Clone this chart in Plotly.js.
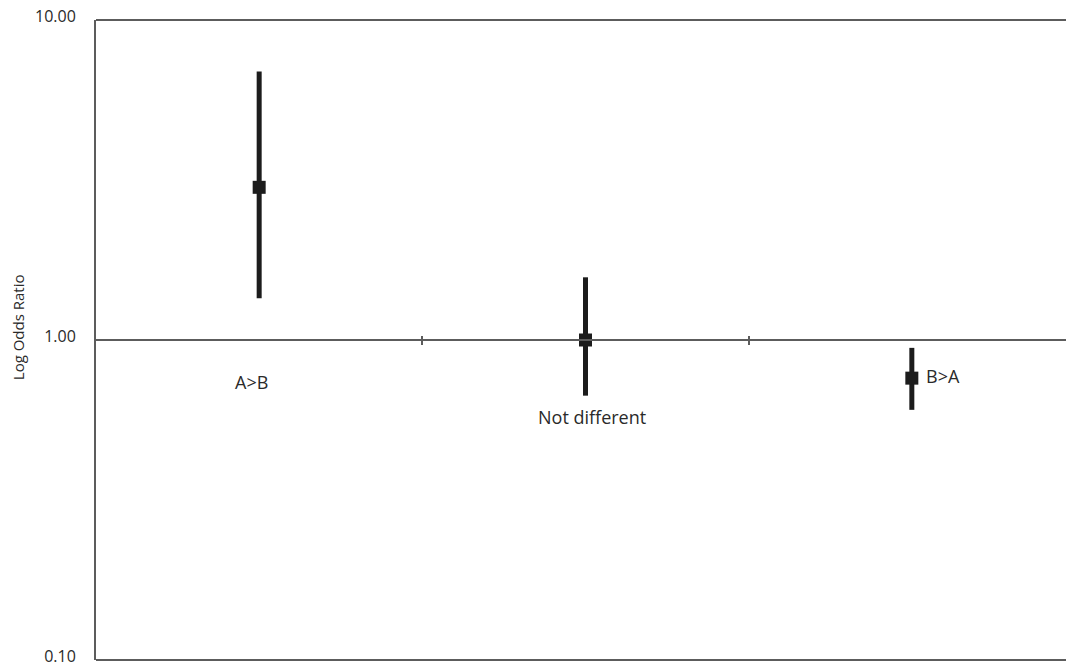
<!DOCTYPE html>
<html>
<head>
<meta charset="utf-8">
<script src="https://cdn.plot.ly/plotly-3.0.1.min.js"></script>
<style>
html, body { margin: 0; padding: 0; background: #fff; overflow: hidden; width: 1066px; height: 668px; }
#chart { width: 1075px; height: 680px; }
</style>
</head>
<body>
<div id="chart"></div>
<script>
// Data
var categories = ['A>B', 'Not different', 'B>A'];
var oddsRatio = [3.0, 1.0, 0.76];
var upperCI = [6.9, 1.57, 0.945];
var lowerCI = [1.35, 0.67, 0.605];
var labelY = [0.74, 0.575, 0.77];
var yTickVals = [0.1, 1, 10];
var yTickText = ['0.10', '1.00', '10.00'];
var yTitle = 'Log Odds Ratio';

var xIdx = categories.map(function (c, i) { return i; });

var trace = {
  type: 'scatter',
  mode: 'markers',
  x: xIdx,
  y: oddsRatio,
  marker: { symbol: 'square', size: 13, color: '#1c1c1c' },
  error_y: {
    type: 'data',
    symmetric: false,
    array: upperCI.map(function (u, i) { return u - oddsRatio[i]; }),
    arrayminus: lowerCI.map(function (l, i) { return oddsRatio[i] - l; }),
    color: '#1c1c1c',
    thickness: 5,
    width: 0
  },
  hoverinfo: 'skip',
  showlegend: false
};

// helper trace for secondary x axis (for centered divider ticks)
var trace2 = {
  type: 'scatter', mode: 'markers', x: xIdx, y: oddsRatio,
  xaxis: 'x2', yaxis: 'y', marker: { opacity: 0 }, hoverinfo: 'skip', showlegend: false
};

var lineColor = '#5c5c5c';
var textColor = '#2a2a2a';
var fontFam = '"Open Sans", "Noto Sans", sans-serif';

var annotations = [
  { x: 0, y: Math.log10(labelY[0]), text: categories[0], xshift: -8, xanchor: 'center' },
  { x: 1, y: Math.log10(labelY[1]), text: categories[1], xshift: 6, xanchor: 'center' },
  { x: 2, y: Math.log10(labelY[2]), text: categories[2], xshift: 12, xanchor: 'left' }
].map(function (a) {
  a.xref = 'x'; a.yref = 'y'; a.showarrow = false;
  a.font = { family: fontFam, size: 18, color: textColor };
  return a;
});
annotations.push({
  xref: 'paper', yref: 'paper', x: 0, y: 0.52, xshift: -78,
  text: yTitle, textangle: -90, showarrow: false,
  xanchor: 'center', yanchor: 'middle',
  font: { family: fontFam, size: 15, color: textColor }
});

var layout = {
  width: 1075,
  height: 680,
  margin: { l: 96, r: 0, t: 20, b: 20, pad: 0 },
  paper_bgcolor: '#fff',
  plot_bgcolor: '#fff',
  showlegend: false,
  xaxis: {
    range: [-0.5, 2.5],
    anchor: 'free', position: 0.5,
    showline: true, linecolor: lineColor, linewidth: 2,
    tickvals: [0.5, 1.5], ticktext: ['', ''],
    ticks: 'outside', ticklen: 4, tickwidth: 2, tickcolor: lineColor,
    showgrid: false, zeroline: false, fixedrange: true
  },
  xaxis2: {
    range: [-0.5, 2.5],
    overlaying: 'x', anchor: 'free', position: 0.5,
    showline: false,
    tickvals: [0.5, 1.5], ticktext: ['', ''],
    ticks: 'inside', ticklen: 4, tickwidth: 2, tickcolor: lineColor,
    showgrid: false, zeroline: false, fixedrange: true
  },
  yaxis: {
    type: 'log',
    range: [-1, 1],
    tickvals: yTickVals, ticktext: yTickText,
    ticks: '', ticklabelstandoff: 15, ticklabelshift: -4,
    showline: true, linecolor: lineColor, linewidth: 2, mirror: false,
    showgrid: false, zeroline: false, fixedrange: true,
    tickfont: { family: fontFam, size: 16, color: textColor }
  },
  shapes: [
    { type: 'line', xref: 'paper', yref: 'paper', x0: 0, x1: 1, y0: 1, y1: 1, line: { color: lineColor, width: 2 } },
    { type: 'line', xref: 'paper', yref: 'paper', x0: 0, x1: 1, y0: 0, y1: 0, line: { color: lineColor, width: 2 } }
  ],
  annotations: annotations
};

Plotly.newPlot('chart', [trace, trace2], layout, { displayModeBar: false, staticPlot: true });
</script>
</body>
</html>
